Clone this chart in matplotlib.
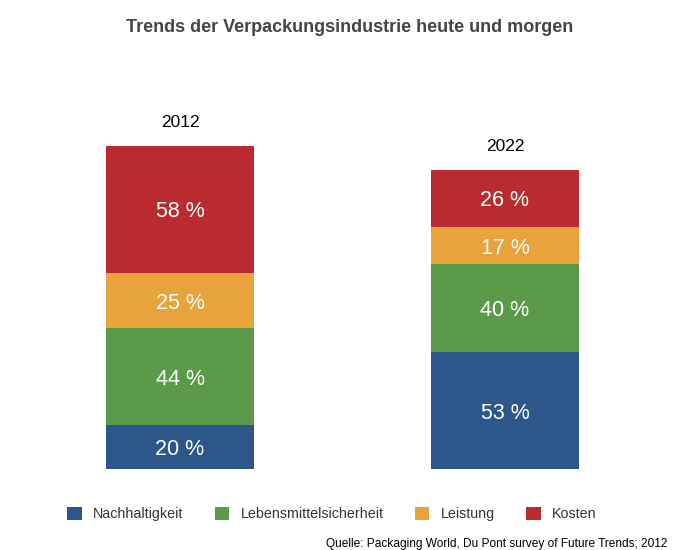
import numpy as np
import matplotlib
matplotlib.use('Agg')
import matplotlib.pyplot as plt
from matplotlib.patches import Patch

###########################################################################
# Data
###########################################################################
years = ['2012', '2022']
categories = ['Nachhaltigkeit', 'Lebensmittelsicherheit', 'Leistung', 'Kosten']
values = {
    'Nachhaltigkeit': [20, 53],
    'Lebensmittelsicherheit': [44, 40],
    'Leistung': [25, 17],
    'Kosten': [58, 26],
}
colors = ['#2D578A', '#5B9A48', '#E8A33D', '#B92B2F']
title = 'Trends der Verpackungsindustrie heute und morgen'
source = 'Quelle: Packaging World, Du Pont survey of Future Trends; 2012'

###########################################################################
# Figure
###########################################################################
plt.rcParams['font.family'] = ['Liberation Sans', 'DejaVu Sans']
W, H = 700, 550
fig = plt.figure(figsize=(W / 100, H / 100), dpi=100)
# axes placed so that x=0 -> px 180, x=1 -> px 505, y=0 -> px 469, 2.2 px per unit
ax = fig.add_axes([17.5 / W, 1 - 469 / H, 650 / W, 352 / H])
ax.set_xlim(-0.5, 1.5)
ax.set_ylim(0, 160)
ax.axis('off')

x = np.arange(len(years))
bottom = np.zeros(len(years))
for cat, col in zip(categories, colors):
    vals = np.array(values[cat], dtype=float)
    ax.bar(x, vals, width=148 / 325, bottom=bottom, color=col, edgecolor='none')
    for xi, b, v in zip(x, bottom, vals):
        ax.text(xi, b + v / 2, f'{int(v)} %', ha='center', va='center_baseline',
                color='white', fontsize=15.5)
    bottom += vals

for xi, tot, yr in zip(x, bottom, years):
    ax.annotate(yr, (xi, tot), xytext=(0, 18), textcoords='offset points',
                ha='center', va='center_baseline', fontsize=12.5, color='black')

fig.text(0.5, 1 - 28 / H, title, ha='center', va='center', fontsize=13,
         fontweight='bold', color='#444444')

handles = [Patch(facecolor=c, edgecolor='none') for c in colors]
fig.legend(handles, categories, loc='center', bbox_to_anchor=(332 / W, 1 - 514 / H),
           ncol=4, frameon=False, fontsize=10.3, handlelength=1.0, handleheight=1.0,
           handletextpad=0.8, columnspacing=2.2, labelcolor='#333333')

fig.text(668 / W, 1 - 544 / H, source, ha='right', va='center', fontsize=8.6,
         color='black')

fig.savefig('out.png', dpi=100)
